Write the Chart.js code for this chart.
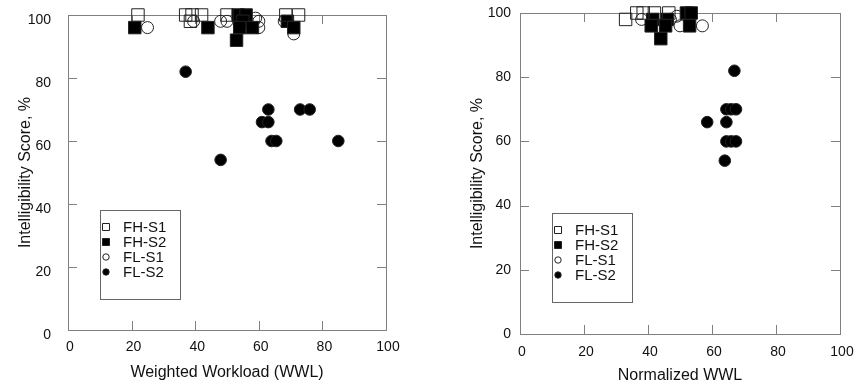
<!DOCTYPE html>
<html>
<head>
<meta charset="utf-8">
<script src="https://cdn.jsdelivr.net/npm/chart.js@4.4.0/dist/chart.umd.min.js"></script>
<style>
  body { margin: 0; background: #fff; }
  #wrap { position: relative; width: 857px; height: 384px; }
  #leftChart { position: absolute; left: 0; top: 0; }
  #rightChart { position: absolute; left: 430px; top: 0; }
</style>
</head>
<body>
<div id="wrap">
  <canvas id="leftChart" width="430" height="384"></canvas>
  <canvas id="rightChart" width="427" height="384"></canvas>
</div>
<script>
// series labels + tick values
const seriesNames = ['FH-S1', 'FH-S2', 'FL-S1', 'FL-S2'];
const axisTicks = [0, 20, 40, 60, 80, 100];

// left panel: weighted workload
const wwlFhS1X = [22, 37, 39, 38.5, 42, 50, 68.5, 72.5];
const wwlFhS1Y = [100, 100, 100, 98, 100, 100, 100, 100];
const wwlFhS2X = [21, 44, 53.5, 56, 55, 54, 58, 53, 69, 71];
const wwlFhS2Y = [96, 96, 100, 100, 98, 96, 96, 92, 98, 96];
const wwlFlS1X = [25, 39.5, 48, 50, 59, 60, 60, 68, 71];
const wwlFlS1Y = [96, 98, 98, 98, 99, 98, 96, 98, 94];
const wwlFlS2X = [37, 63, 61, 63, 73, 76, 64, 65.5, 85, 48];
const wwlFlS2Y = [82, 70, 66, 66, 70, 70, 60, 60, 60, 54];

// right panel: normalized WWL
const nwwlFhS1X = [33, 36.5, 38.5, 42, 46.5];
const nwwlFhS1Y = [98, 100, 100, 100, 100];
const nwwlFhS2X = [41.5, 46, 41, 45.5, 44, 52, 53.5, 53];
const nwwlFhS2Y = [98, 98, 96, 96, 92, 100, 100, 96];
const nwwlFlS1X = [38, 47, 49, 50, 57];
const nwwlFlS1Y = [98, 98, 99, 96, 96];
const nwwlFlS2X = [67, 64.5, 66, 67.5, 58.5, 64.5, 64.5, 66, 67.5, 64];
const nwwlFlS2Y = [82, 70, 70, 70, 66, 66, 60, 60, 60, 54];

const axisColor = '#808080';
const textColor = '#111';
const fontFamily = 'Arial, "Liberation Sans", sans-serif';

function toPoints(xs, ys) {
  return xs.map((x, i) => ({ x: x, y: ys[i] }));
}

const markerStyles = [
  { pointStyle: 'rect', radius: 8.8, fill: 'rgba(0,0,0,0)' },
  { pointStyle: 'rect', radius: 8.8, fill: '#000' },
  { pointStyle: 'circle', radius: 6, fill: 'rgba(0,0,0,0)' },
  { pointStyle: 'circle', radius: 5.8, fill: '#000' },
];

// box around plot + inward tick marks
const frameTicks = {
  id: 'frameTicks',
  beforeDatasetsDraw(chart) {
    const ctx = chart.ctx;
    const ca = chart.chartArea;
    const xs = chart.scales.x;
    const ys = chart.scales.y;
    ctx.save();
    ctx.strokeStyle = axisColor;
    ctx.lineWidth = 1;
    ctx.strokeRect(Math.round(ca.left) + 0.5, Math.round(ca.top) + 0.5,
      Math.round(ca.right - ca.left), Math.round(ca.bottom - ca.top));
    ctx.beginPath();
    axisTicks.forEach((v) => {
      const px = Math.round(xs.getPixelForValue(v)) + 0.5;
      ctx.moveTo(px, ca.bottom); ctx.lineTo(px, ca.bottom - 9);
      ctx.moveTo(px, ca.top); ctx.lineTo(px, ca.top + 9);
      const py = Math.round(ys.getPixelForValue(v)) + 0.5;
      ctx.moveTo(ca.left, py); ctx.lineTo(ca.left + 9, py);
      ctx.moveTo(ca.right, py); ctx.lineTo(ca.right - 9, py);
    });
    ctx.stroke();
    ctx.restore();
  },
};

// legend box inside the plot, lower left
const boxLegend = {
  id: 'boxLegend',
  afterDraw(chart, args, opts) {
    const ctx = chart.ctx;
    const ca = chart.chartArea;
    const left = ca.left + 32;
    const top = ca.bottom - opts.bottomGap - 89;
    ctx.save();
    ctx.fillStyle = '#fff';
    ctx.fillRect(left, top, 80, 89);
    ctx.strokeStyle = '#666';
    ctx.lineWidth = 1;
    ctx.strokeRect(Math.round(left) + 0.5, Math.round(top) + 0.5, 80, 89);
    ctx.font = '15px ' + fontFamily;
    ctx.textBaseline = 'middle';
    chart.data.datasets.forEach((ds, i) => {
      const cy = top + 17 + i * 15;
      const cx = left + 6;
      const m = markerStyles[i];
      ctx.fillStyle = m.fill;
      ctx.strokeStyle = '#222';
      ctx.beginPath();
      if (m.pointStyle === 'rect') {
        ctx.rect(cx - 3.5, cy - 3.5, 7, 7);
      } else {
        ctx.arc(cx, cy, 3.2, 0, Math.PI * 2);
      }
      ctx.fill();
      ctx.stroke();
      ctx.fillStyle = textColor;
      ctx.fillText(ds.label, left + 23, cy + 1);
    });
    ctx.restore();
  },
};

function makeChart(canvasId, seriesData, cfg) {
  const datasets = seriesData.map((pts, i) => ({
    label: seriesNames[i],
    data: pts,
    pointStyle: markerStyles[i].pointStyle,
    pointRadius: markerStyles[i].radius,
    pointHoverRadius: markerStyles[i].radius,
    pointBackgroundColor: markerStyles[i].fill,
    pointBorderColor: '#222',
    pointBorderWidth: 1,
    showLine: false,
    clip: false,
  }));

  return new Chart(document.getElementById(canvasId), {
    type: 'scatter',
    data: { datasets: datasets },
    plugins: [frameTicks, boxLegend],
    options: {
      responsive: false,
      animation: false,
      events: [],
      layout: { padding: cfg.padding, autoPadding: false },
      plugins: {
        legend: { display: false },
        tooltip: { enabled: false },
        boxLegend: { bottomGap: cfg.legendGap },
      },
      scales: {
        x: {
          type: 'linear',
          min: 0,
          max: 100,
          afterFit(scale) {
            scale.height = cfg.xHeight;
            scale.paddingLeft = 0;
            scale.paddingRight = 0;
          },
          grid: { display: false, drawTicks: false },
          border: { display: false },
          afterBuildTicks(scale) { scale.ticks = axisTicks.map((v) => ({ value: v })); },
          ticks: {
            color: textColor,
            font: { family: fontFamily, size: 14 },
            padding: cfg.xTickPad,
            labelOffset: 2,
            maxRotation: 0,
          },
          title: {
            display: true,
            text: cfg.xTitle,
            color: textColor,
            font: { family: fontFamily, size: 16, lineHeight: 1 },
            padding: { top: 0, bottom: cfg.xTitlePad },
          },
        },
        y: {
          type: 'linear',
          min: 0,
          max: 100,
          afterFit(scale) {
            scale.width = cfg.yWidth;
            scale.paddingTop = 0;
            scale.paddingBottom = 0;
          },
          grid: { display: false, drawTicks: false },
          border: { display: false },
          afterBuildTicks(scale) { scale.ticks = axisTicks.map((v) => ({ value: v })); },
          ticks: {
            color: textColor,
            font: { family: fontFamily, size: 14 },
            padding: cfg.yTickPad,
            labelOffset: cfg.yLabelOffset,
          },
          title: {
            display: true,
            text: 'Intelligibility Score, %',
            color: textColor,
            font: { family: fontFamily, size: 16, lineHeight: 1 },
            padding: { top: cfg.yTitlePad, bottom: 0 },
          },
        },
      },
    },
  });
}

makeChart('leftChart', [
  toPoints(wwlFhS1X, wwlFhS1Y),
  toPoints(wwlFhS2X, wwlFhS2Y),
  toPoints(wwlFlS1X, wwlFlS1Y),
  toPoints(wwlFlS2X, wwlFlS2Y),
], {
  padding: { left: 0, right: 44, top: 15, bottom: 0 },
  xHeight: 54,
  yWidth: 68,
  xTickPad: 9,
  yTickPad: 17,
  yLabelOffset: 5,
  xTitle: 'Weighted Workload (WWL)',
  xTitlePad: 3,
  yTitlePad: 18,
  legendGap: 31,
});

makeChart('rightChart', [
  toPoints(nwwlFhS1X, nwwlFhS1Y),
  toPoints(nwwlFhS2X, nwwlFhS2Y),
  toPoints(nwwlFlS1X, nwwlFlS1Y),
  toPoints(nwwlFlS2X, nwwlFlS2Y),
], {
  padding: { left: 0, right: 17, top: 13, bottom: 0 },
  xHeight: 50,
  yWidth: 90,
  xTickPad: 10,
  yTickPad: 9,
  yLabelOffset: 0,
  xTitle: 'Normalized WWL',
  xTitlePad: 0,
  yTitlePad: 40,
  legendGap: 32,
});
</script>
</body>
</html>
